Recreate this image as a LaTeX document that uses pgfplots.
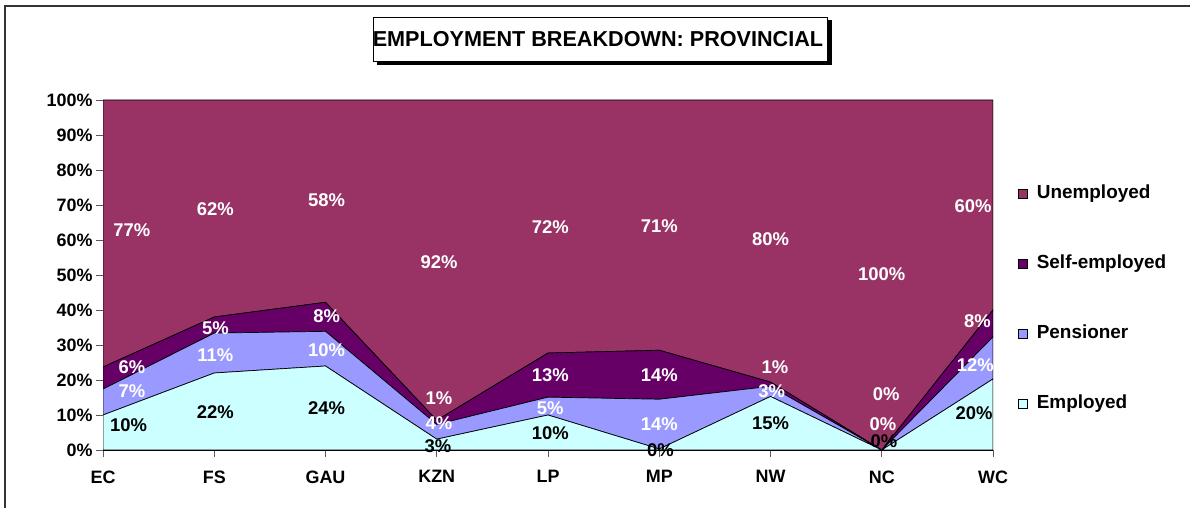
\documentclass[border=0pt]{standalone}
\usepackage{fontspec}
\setmainfont{Liberation Sans}
\usepackage{pgfplots}
\pgfplotsset{compat=1.18}
\usepackage{pgfplotstable}
\definecolor{cUnemp}{HTML}{993366}
\definecolor{cSelf}{HTML}{660066}
\definecolor{cPens}{HTML}{9999FF}
\definecolor{cEmp}{HTML}{CCFFFF}

% x: 0=EC 1=FS 2=GAU 3=KZN 4=LP 5=MP 6=NW 7=NC 8=WC
\pgfplotstableread{
x emp  pen  self unemp
0 10   7.4  6.3  76.3
1 22   11.4 4.6  62
2 24   9.9  8.3  57.8
3 3.1  4.2  1.2  91.5
4 10   5.1  12.6 72.3
5 0.3  14.2 14.0 71.5
6 15.3 2.9  1.2  80.6
7 0    0    0    100
8 20.3 12   7.7  60
}\data

% data label positions: x y value
\pgfplotstableread{
x    y    v
0.26 62.7 77
0.26 23.7 6
0.26 16.7 7
1.01 68.9 62
1.01 34.9 5
1.01 27.1 11
2.01 71.4 58
2.01 38.1 8
2.01 28.6 10
3.02 53.7 92
3.02 14.9 1
3.02 7.7  4
4.02 63.7 72
4.02 21.4 13
4.02 12.0 5
5.0  64.0 71
5.0  21.4 14
5.0  7.4  14
6.0  60.3 80
6.04 23.8 1
6.01 16.7 3
7.0  50.3 100
7.04 16.0 0
7.01 7.3  0
7.82 69.7 60
7.86 36.7 8
7.84 24.3 12
}\whitelabels

\pgfplotstableread{
x    y    v
0.23 7.1  10
1.01 10.9 22
2.01 12.0 24
3.01 1.1  3
4.02 4.9  10
5.01 0.0  0
6.0  7.7  15
7.02 2.4  0
7.83 10.6 20
}\blacklabels

\begin{document}
\begin{tikzpicture}[x=1bp,y=1bp]
\useasboundingbox (0,0) rectangle (1190,508);
% outer frame (top and left visible)
\draw[line width=1.6bp, black!80] (5,0) -- (5,502) -- (1190,502);
% title box with shadow
\fill[black] (377,443) rectangle (832,488);
\draw[fill=white, line width=0.8bp] (373,447) rectangle (827,491);
\node[font=\bfseries\fontsize{21.7}{24}\selectfont, inner sep=0pt] at (598,469) {EMPLOYMENT BREAKDOWN: PROVINCIAL};

\begin{axis}[
  at={(103bp,58bp)}, anchor=south west,
  scale only axis, width=890bp, height=350bp,
  xmin=0, xmax=8, ymin=0, ymax=100,
  stack plots=y,
  axis x line*=bottom, axis y line*=left,
  axis line style={black, line width=0.8bp},
  xtick={0,...,8},
  xticklabels={EC,FS,GAU,KZN,LP,MP,NW,NC,WC},
  ytick={0,10,...,100},
  yticklabels={0\%,10\%,20\%,30\%,40\%,50\%,60\%,70\%,80\%,90\%,100\%},
  tick align=outside, major tick length=7bp,
  tick style={gray!70!black, line width=0.8bp},
  ticklabel style={font=\bfseries\fontsize{18}{21}\selectfont},
  xticklabel style={yshift=-10bp},
  reverse legend,
  legend image code/.code={\draw[#1, draw=black, line width=0.7bp] (0bp,-4.5bp) rectangle (9bp,4.5bp);},
  legend style={at={(1.028,0.761)}, anchor=north west, draw=none, fill=none,
    inner sep=0pt, row sep=49bp,
    font=\bfseries\fontsize{19}{22}\selectfont,
    nodes={inner sep=2bp, text height=13bp, text depth=4bp},
    /tikz/every odd column/.append style={column sep=7bp}},
  legend cell align=left,
]
\addplot[fill=cEmp, draw=black, line width=0.7bp] table[x=x, y=emp] {\data} \closedcycle;
\addlegendentry{Employed}
\addplot[fill=cPens, draw=black, line width=0.7bp] table[x=x, y=pen] {\data} \closedcycle;
\addlegendentry{Pensioner}
\addplot[fill=cSelf, draw=black, line width=0.7bp] table[x=x, y=self] {\data} \closedcycle;
\addlegendentry{Self-employed}
\addplot[fill=cUnemp, draw=black, line width=0.7bp] table[x=x, y=unemp] {\data} \closedcycle;
\addlegendentry{Unemployed}
\end{axis}

\begin{axis}[
  at={(103bp,58bp)}, anchor=south west,
  scale only axis, width=890bp, height=350bp,
  xmin=0, xmax=8, ymin=0, ymax=100,
  hide axis, clip=false,
]
\addplot[only marks, mark size=0pt, point meta=explicit,
  nodes near coords={\pgfmathprintnumber[assume math mode=true]{\pgfplotspointmeta}\%},
  every node near coord/.style={anchor=center, text=white, inner sep=0pt,
    font=\bfseries\fontsize{18.5}{21}\selectfont}]
  table[x=x, y=y, meta=v] {\whitelabels};
\addplot[only marks, mark size=0pt, point meta=explicit,
  nodes near coords={\pgfmathprintnumber[assume math mode=true]{\pgfplotspointmeta}\%},
  every node near coord/.style={anchor=center, text=black, inner sep=0pt,
    font=\bfseries\fontsize{18.5}{21}\selectfont}]
  table[x=x, y=y, meta=v] {\blacklabels};
\end{axis}
\end{tikzpicture}
\end{document}
